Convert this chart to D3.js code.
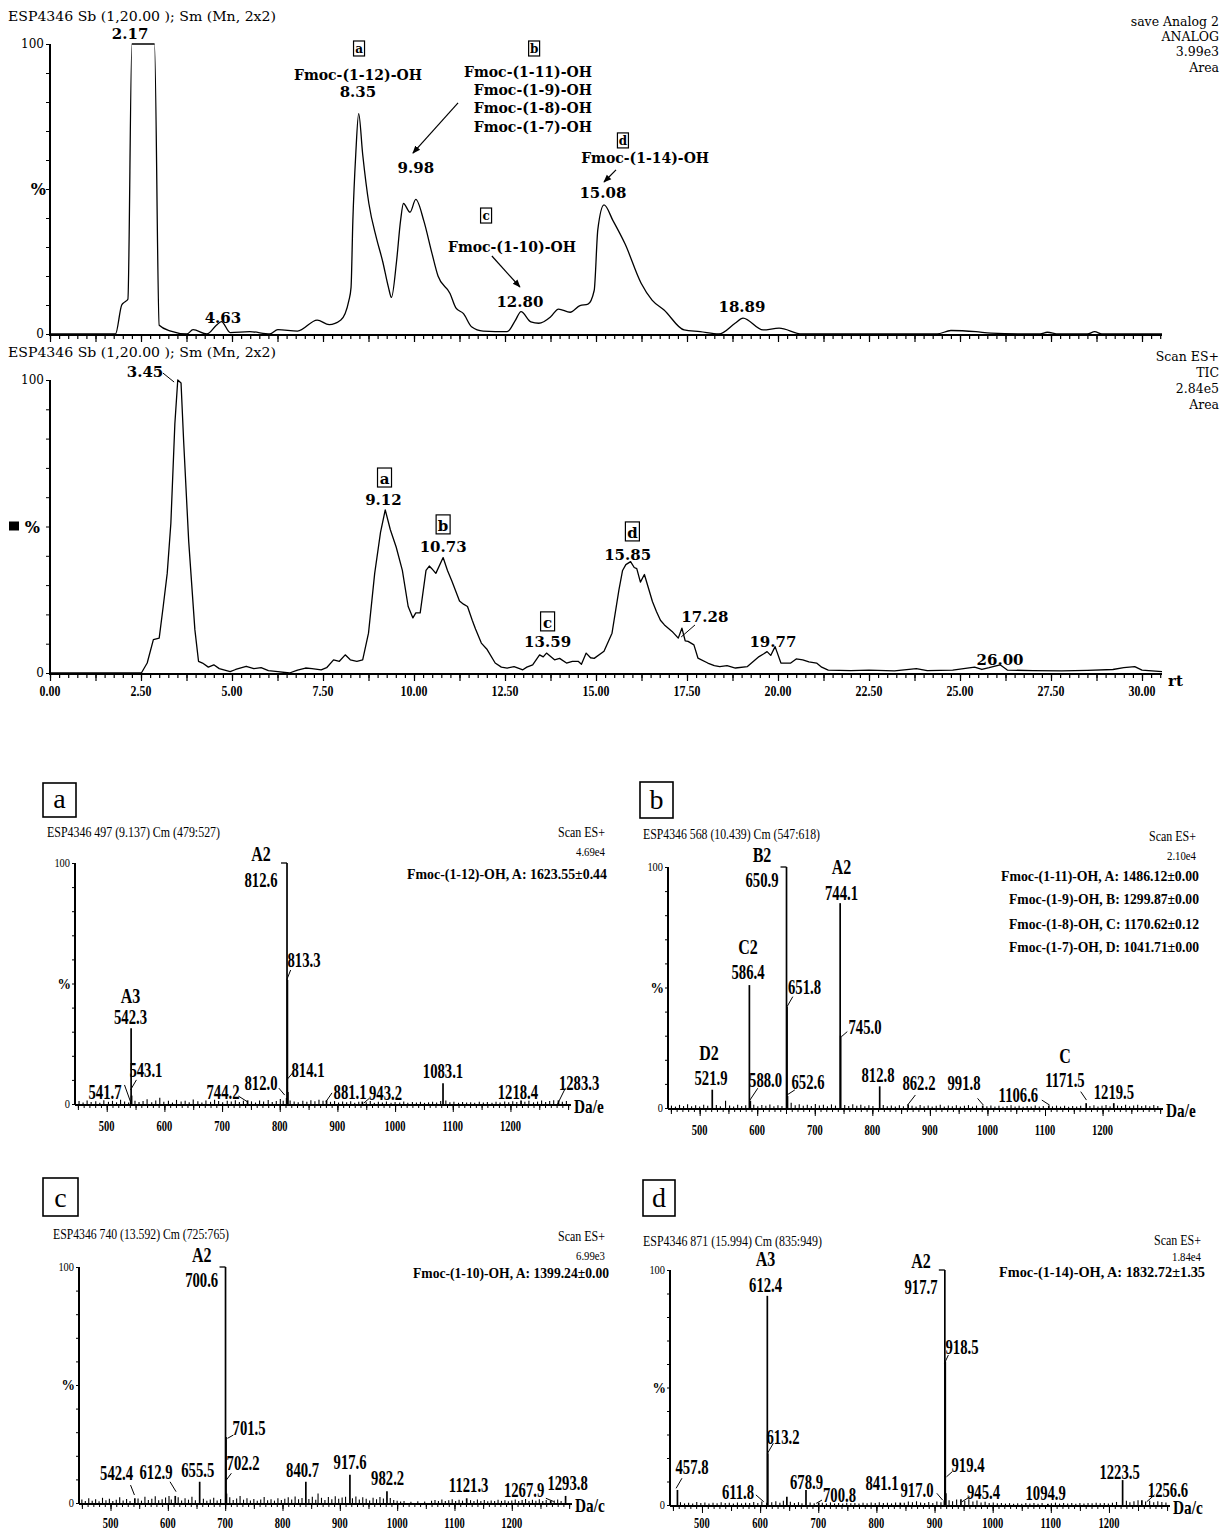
<!DOCTYPE html>
<html><head><meta charset="utf-8">
<script src="https://cdn.jsdelivr.net/npm/d3@7/dist/d3.min.js"></script>
<style>html,body{margin:0;padding:0;background:#fff}svg{display:block}</style>
</head><body>
<script>
// ================= DATA =================
// Chromatogram traces: [retention time (min), intensity %]
const uvTrace=[[0,0],[1.80,0],[1.97,10],[2.05,11],[2.14,12],[2.25,100],[2.87,100],[3.0,3],[3.32,1],[3.76,0],[3.93,1.5],[4.31,0],[4.57,3],[4.71,4.3],[4.95,0.5],[5.49,0.8],[6.04,0],[6.26,1.5],[6.80,1],[7.34,4.8],[7.67,3.2],[7.99,4.8],[8.21,11.5],[8.27,16],[8.32,39],[8.40,62],[8.48,76],[8.59,62],[8.76,45],[8.97,33],[9.14,25],[9.30,16],[9.38,12.6],[9.52,25],[9.63,39],[9.71,45],[9.89,42],[10.05,46.4],[10.27,39],[10.49,28],[10.66,20],[10.99,14],[11.15,9],[11.36,7],[11.58,2.5],[11.90,1],[12.56,0.8],[12.78,4.6],[12.94,7.7],[13.21,4.2],[13.43,3.7],[13.76,6],[13.97,8.6],[14.29,7.5],[14.56,9.8],[14.78,10.3],[14.95,15],[15.05,36],[15.22,44.5],[15.47,39],[15.80,31],[16.24,17.5],[16.54,11.7],[16.87,8.3],[17.42,1.4],[17.86,0.8],[18.38,0],[18.82,3.7],[19.04,5.5],[19.59,1.4],[20.03,2],[20.66,0],[24.37,0],[24.75,1.2],[25.44,0.8],[25.85,0.3],[27.2,0],[27.4,0.6],[27.7,0],[28.5,0],[28.7,0.8],[28.9,0],[30.55,0]];
const ticTrace=[[0,0],[2.51,0],[2.67,3.4],[2.84,11.4],[3.0,11.9],[3.11,22.7],[3.22,34],[3.32,51],[3.43,85],[3.51,100],[3.6,99],[3.67,79.5],[3.81,45],[3.98,14.8],[4.08,4],[4.19,3.4],[4.35,2],[4.5,2.8],[4.65,1.5],[4.8,1],[4.95,0.5],[5.1,1.2],[5.39,2.3],[5.6,1.5],[5.8,1.8],[6.0,0.8],[6.26,0.5],[6.58,0],[6.8,1],[7.02,1.7],[7.2,1.5],[7.45,1.1],[7.6,1.8],[7.79,4.5],[7.95,4],[8.11,6.2],[8.25,4.5],[8.43,4],[8.59,4.5],[8.75,13.6],[8.92,34],[9.08,48],[9.21,55.7],[9.35,48.9],[9.51,43],[9.68,35],[9.84,22.7],[9.97,18.8],[10.05,20.5],[10.17,20.5],[10.33,35],[10.42,36.5],[10.49,35.6],[10.6,34],[10.8,39.4],[10.92,35],[11.04,31.4],[11.25,24.6],[11.36,23.5],[11.47,22.7],[11.6,18],[11.69,15],[11.85,10.2],[12.01,8],[12.23,3.4],[12.4,2],[12.56,1.7],[12.75,2.2],[12.99,1.1],[13.1,2],[13.26,2.8],[13.45,6.2],[13.55,5.5],[13.64,6.8],[13.86,4.5],[14.0,5],[14.19,3.4],[14.35,4],[14.51,4],[14.6,3],[14.73,6.8],[14.85,5.2],[14.95,5],[15.22,7.4],[15.44,13.6],[15.63,28.4],[15.73,35],[15.82,37],[15.95,38],[16.05,36],[16.12,35.6],[16.22,31],[16.33,33.6],[16.44,29],[16.55,24.4],[16.66,21],[16.77,18],[16.88,16.4],[17.09,14.2],[17.26,11.9],[17.36,15.3],[17.45,11],[17.53,10.8],[17.69,9.6],[17.8,5.1],[18.07,3.4],[18.25,2.5],[18.4,2.2],[18.6,2.5],[18.83,1.7],[19.16,2.2],[19.48,5.6],[19.6,6.5],[19.7,7.3],[19.8,6],[19.92,9],[20.08,3.4],[20.35,3.4],[20.5,4.8],[20.68,4.5],[20.85,3.8],[21.06,3.4],[21.2,2],[21.38,1],[22.0,0.8],[22.5,1],[23.2,0.7],[23.8,1.5],[24.1,0.8],[24.8,1],[25.4,2],[25.6,1.2],[25.8,1.8],[26.1,2.8],[26.3,1],[27.0,0.8],[27.8,0.7],[28.5,0.9],[29.2,1.2],[29.5,1.8],[29.8,2.2],[30.0,1],[30.55,0.5]];
const rtTickLabels=[0,2.5,5,7.5,10,12.5,15,17.5,20,22.5,25,27.5,30];

// Chromatogram annotations: [text, rt, %]
const uvPeakLabels=[["2.17",2.2,101.7],["4.63",4.75,3.8],["8.35",8.46,81.7],["9.98",10.05,55.5],["12.80",12.91,9.3],["15.08",15.19,46.9],["18.89",19.01,7.6]];
const uvCompoundLabels=[["Fmoc-(1-12)-OH",8.46,87.6,"middle"],["Fmoc-(1-11)-OH",14.89,88.6,"end"],["Fmoc-(1-9)-OH",14.89,82.4,"end"],["Fmoc-(1-8)-OH",14.89,76.2,"end"],["Fmoc-(1-7)-OH",14.89,69.7,"end"],["Fmoc-(1-10)-OH",12.69,28.3,"middle"],["Fmoc-(1-14)-OH",16.35,59,"middle"]];
const uvBoxes=[["a",8.49,96.9],["b",13.3,96.9],["c",11.98,39.3],["d",15.74,65.2]];
const uvArrows=[[11.21,79.7,9.97,62.4],[12.14,26.9,12.91,16.2],[15.55,56.6,15.22,52.4]];
const ticPeakLabels=[["3.45",2.61,101],["9.12",9.16,57.3],["10.73",10.8,41.3],["13.59",13.67,8.9],["15.85",15.87,38.6],["17.28",17.99,17.4],["19.77",19.86,8.9],["26.00",26.1,2.7]];
const ticBoxes=[["a",9.19,64.5],["b",10.8,48.5],["c",13.67,15.4],["d",16.0,46.1]];
const ticLeaders=[[3.1,102.4,3.41,99.3],[17.72,16.4,17.34,12.3]];
const uvHeader="ESP4346 Sb (1,20.00 ); Sm (Mn, 2x2)";
const uvRightHeader=["save Analog 2","ANALOG","3.99e3","Area"];
const ticHeader="ESP4346 Sb (1,20.00 ); Sm (Mn, 2x2)";
const ticRightHeader=["Scan ES+","TIC","2.84e5","Area"];

// Mass spectra: [m/z, %]
const mzTickLabels=[500,600,700,800,900,1000,1100,1200];
const peaksA=[[812.6,100],[813.3,51.5],[542.3,31.4],[1083.1,8.6],[814.1,5],[543.1,3.5],[541.7,1.5],[812.0,2.5],[744.2,1.5],[881.1,1.5],[943.2,1],[1218.4,1.5],[1283.3,1.5]];
const noiseA=[[452,1.2],[459,0.6],[466,1.5],[473,0.8],[481,1.1],[488,0.5],[495,1.6],[503,0.9],[510,1.3],[517,0.7],[524,1.8],[531,1],[538,0.6],[549,1.4],[556,0.8],[563,1.2],[570,2],[578,0.7],[585,1.5],[592,2.6],[599,0.9],[607,1.3],[614,0.6],[621,1.7],[629,1],[636,1.4],[643,0.7],[650,1.9],[658,1.1],[665,0.6],[672,1.5],[680,0.9],[687,1.8],[694,1.2],[701,0.7],[709,1.4],[716,1],[723,1.6],[730,0.8],[737,1.3],[751,1.1],[758,0.6],[765,1.5],[772,1],[780,1.7],[787,0.8],[794,1.2],[801,2.1],[806,1.4],[818,1.5],[825,1],[832,0.7],[840,1.3],[847,0.9],[854,1.6],[861,1.1],[868,1.8],[875,1.3],[888,0.9],[895,1.2],[902,0.6],[909,1],[916,0.7],[923,1.1],[930,0.5],[937,0.9],[950,0.7],[957,1.2],[964,0.5],[971,0.9],[978,0.6],[985,1],[993,0.5],[1000,0.8],[1008,0.6],[1015,1],[1022,0.5],[1030,0.8],[1037,0.6],[1044,0.9],[1051,0.5],[1058,0.7],[1065,0.9],[1072,0.6],[1079,1.2],[1088,1.5],[1095,0.7],[1102,0.9],[1110,0.5],[1117,0.8],[1124,0.6],[1131,0.7],[1138,0.5],[1146,0.9],[1153,0.6],[1160,0.8],[1168,0.5],[1175,0.9],[1182,0.6],[1190,1],[1197,0.7],[1204,1.1],[1211,0.8],[1225,0.9],[1232,1.3],[1240,0.7],[1247,1],[1254,1.5],[1261,0.8],[1268,1.2],[1275,1.6],[1290,0.9],[1297,1.2]];
const labelsA=[["A2",767.5,100.8,1],["812.6",767.5,90,0],["813.3",842,56.8,0],["A3",541.2,42,1],["542.3",541.2,33.2,0],["543.1",568,11.2,0],["541.7",497,2.1,0],["744.2",701.6,2.1,0],["812.0",767.5,5.8,0],["814.1",849,11.2,0],["881.1",922,2.1,0],["943.2",983.4,1.7,0],["1083.1",1083.1,10.8,0],["1218.4",1213,2.1,0],["1283.3",1319,5.8,0]];
const leadersA=[[818.9,55.6,812.1,51.5],[551.5,10,541.2,5.8],[530.8,7.9,541.2,1],[728.3,3.3,743.4,1],[798.4,6.6,808.6,3.7],[822.3,12.9,812.1,10],[890.6,4.6,880.2,1],[956,2.5,945.8,0.4],[1295.3,6.6,1281.7,0]];
const idsA=["Fmoc-(1-12)-OH, A: 1623.55±0.44"];

const peaksB=[[650.9,100],[744.1,85],[586.4,51],[651.8,42],[745.0,30],[812.8,9],[521.9,7.6],[588.0,3],[652.6,5],[862.2,1.5],[991.8,1],[1106.6,1],[1171.5,2],[1219.5,2]];
const noiseB=[[451,1],[458,0.6],[465,1.3],[472,0.8],[479,1.6],[486,0.7],[493,1.1],[500,0.6],[507,1.4],[514,0.9],[529,1.2],[536,0.7],[545,3],[552,1],[559,0.6],[566,1.3],[573,0.8],[580,1.1],[594,1.4],[601,0.7],[608,1.2],[615,0.9],[622,1.5],[629,0.7],[636,1.1],[643,0.8],[659,2.2],[666,1.1],[673,1.6],[680,0.9],[687,1.4],[694,0.8],[701,1.7],[708,1],[715,1.3],[722,0.7],[729,1.5],[736,1],[752,1.2],[759,0.8],[766,1.6],[773,0.9],[780,1.3],[787,0.7],[794,1.1],[801,0.8],[819,1.2],[826,0.7],[833,1],[840,0.6],[847,1.1],[854,0.7],[869,0.9],[876,0.6],[883,1.2],[890,0.7],[897,1],[904,0.6],[911,0.9],[918,1.3],[925,0.6],[932,1],[939,0.7],[946,1.1],[953,0.6],[960,0.9],[967,1.2],[974,0.6],[981,1],[999,0.7],[1006,1],[1013,0.6],[1020,0.9],[1027,0.5],[1034,0.8],[1041,1.1],[1048,0.6],[1055,0.9],[1062,0.5],[1069,0.8],[1076,0.6],[1083,1],[1090,0.6],[1097,0.8],[1113,0.7],[1120,1],[1127,0.6],[1134,0.9],[1141,0.5],[1148,0.8],[1155,0.6],[1162,0.9],[1178,0.8],[1185,1.1],[1192,0.6],[1199,0.9],[1206,1.2],[1213,0.7],[1226,1],[1233,0.8],[1240,1.3],[1247,0.7],[1254,1],[1261,1.4],[1268,0.8],[1275,1.1],[1282,0.7],[1289,1.2],[1296,0.8]];
const labelsB=[["B2",608.3,102,1],["650.9",608.3,91.7,0],["A2",746.4,97,1],["744.1",746.4,86.3,0],["C2",584,64,1],["586.4",584,53.5,0],["651.8",682.1,47.3,0],["745.0",787.2,30.7,0],["D2",516.2,19.8,1],["521.9",519.7,9.5,0],["588.0",614.5,8.7,0],["652.6",688.2,7.9,0],["812.8",809.8,10.8,0],["862.2",881,7.5,0],["991.8",959.2,7.5,0],["1106.6",1053.8,2.5,0],["C",1134.6,18.8,1],["1171.5",1134.6,8.7,0],["1219.5",1219.7,3.7,0]];
const leadersB=[[661.8,46.2,651.7,42],[756.5,31.7,746.4,29.6],[601,8.2,587.4,3.3],[665.3,7.5,651.7,5.4],[874.8,5.4,861.2,1.2],[982.8,4,992.9,1.2],[1094.4,3.3,1108,1.2],[1162,6.8,1172,3.3]];
const idsB=["Fmoc-(1-11)-OH, A: 1486.12±0.00","Fmoc-(1-9)-OH, B: 1299.87±0.00","Fmoc-(1-8)-OH, C: 1170.62±0.12","Fmoc-(1-7)-OH, D: 1041.71±0.00"];

const peaksC=[[700.6,100],[701.5,28],[917.6,12],[840.7,9],[655.5,9],[702.2,4],[982.2,5],[612.9,3],[542.4,2],[1121.3,2],[1267.9,1],[1293.8,3]];
const noiseC=[[450,1.5],[456,0.8],[462,2],[468,1],[474,1.6],[480,0.7],[486,2.2],[492,1.2],[498,1.8],[504,0.9],[510,1.4],[516,2.4],[522,1.1],[528,1.7],[534,0.8],[548,1.9],[554,1],[560,2.6],[566,1.3],[572,1.8],[578,2.9],[584,1.2],[590,1.6],[596,2.3],[602,3],[606,1.5],[618,2.4],[624,1.1],[630,2],[636,1.4],[642,2.6],[648,1.2],[662,1.8],[668,1],[674,1.5],[680,2.2],[686,1.1],[692,1.7],[708,2.4],[714,1.3],[720,1.9],[726,3],[732,1.4],[738,2],[744,1.1],[750,1.7],[756,1],[762,1.5],[768,2.5],[774,1.2],[780,1.6],[786,1],[792,2],[798,1.3],[804,1.8],[810,2.4],[816,1.5],[822,2.8],[828,1.6],[834,2.1],[846,1.7],[852,2.6],[858,1.4],[862,4],[868,2.2],[874,1.3],[880,2.5],[886,1.6],[892,2.9],[898,1.8],[904,2.3],[910,2.7],[922,2],[928,2.8],[934,1.5],[940,2.4],[946,1.8],[952,1.1],[958,2.2],[964,1.6],[970,2.5],[976,1.9],[988,2.1],[994,1.3],[1000,1],[1006,0.6],[1012,0.8],[1024,0.5],[1036,0.7],[1048,0.6],[1060,1],[1066,1.3],[1072,0.9],[1078,1.5],[1084,0.8],[1090,1.2],[1096,1.6],[1102,0.9],[1108,1.4],[1114,1],[1128,1.2],[1134,0.8],[1140,1.5],[1146,0.9],[1152,1.3],[1158,0.7],[1164,1.1],[1170,0.8],[1176,1.4],[1182,0.9],[1188,1.2],[1194,0.7],[1200,1.1],[1206,1.5],[1212,0.8],[1218,1.3],[1224,1.7],[1230,0.9],[1236,1.4],[1242,1],[1248,1.6],[1254,0.9],[1260,1.3],[1274,1.1],[1280,1.5],[1286,0.9]];
const labelsC=[["A2",659,102.3,1],["700.6",659,91.5,0],["701.5",741.7,28.8,0],["542.4",510.6,9.7,0],["612.9",579.4,10.2,0],["655.5",652.1,11,0],["702.2",731.2,14,0],["840.7",835,11,0],["917.6",917.9,14.4,0],["982.2",983.4,7.6,0],["1121.3",1124.7,4.7,0],["1267.9",1221.5,2.5,0],["1293.8",1297.3,5.5,0]];
const leadersC=[[714.3,28.8,704,27.4],[534.9,7.6,541.7,3.4],[603.8,9,614.3,4.8],[710.8,12.6,701.9,9.7],[1259.4,2,1273.2,0.6]];
const idsC=["Fmoc-(1-10)-OH, A: 1399.24±0.00"];

const peaksD=[[917.7,100],[612.4,89],[918.5,61],[613.2,22],[1223.5,10.6],[678.9,6.4],[457.8,6.4],[919.4,5],[945.4,2.5],[611.8,1],[700.8,1],[841.1,1],[917.0,2],[1094.9,0.5],[1256.6,2],[646,3.5]];
const noiseD=[[463,1.2],[470,0.7],[477,1],[484,0.6],[491,1.3],[498,0.8],[505,1.1],[512,0.6],[519,1],[526,0.7],[533,1.2],[540,0.8],[547,1],[554,0.6],[561,1.1],[568,0.7],[575,1],[582,0.8],[589,1.3],[596,0.9],[603,1.5],[620,1.2],[627,1.6],[634,1],[640,1.8],[652,1.4],[659,0.9],[666,1.2],[672,0.7],[686,1.1],[693,0.7],[707,1],[714,0.6],[721,1.1],[728,0.7],[735,0.9],[742,0.6],[749,1],[756,0.7],[763,0.9],[770,0.6],[777,1],[784,0.7],[791,1.1],[798,0.8],[805,1.2],[812,0.8],[819,1],[826,0.7],[833,1.1],[848,1],[855,1.5],[862,1.2],[869,1.6],[876,1.1],[883,0.9],[890,1.3],[897,0.8],[904,1.5],[911,1.2],[925,2],[931,1.6],[938,2.3],[952,1.8],[959,2.4],[966,1.5],[973,1.9],[980,1.1],[987,1.4],[994,0.9],[1001,1.1],[1008,0.7],[1015,0.9],[1022,0.6],[1029,0.8],[1036,0.5],[1043,0.7],[1050,0.5],[1057,0.8],[1064,0.6],[1071,0.9],[1078,0.5],[1085,0.8],[1101,0.7],[1108,1],[1115,0.6],[1122,0.9],[1129,0.6],[1136,0.8],[1143,0.5],[1150,0.8],[1157,0.6],[1164,0.9],[1171,0.7],[1178,1],[1185,0.7],[1192,0.9],[1199,0.6],[1206,1],[1213,1.3],[1230,1.8],[1236,1.2],[1243,1.6],[1250,2],[1263,1.5],[1270,1.8],[1277,1.2],[1284,1.6],[1291,1.3],[1298,1.1]];
const labelsD=[["A3",609.4,101.5,1],["612.4",609.4,90.6,0],["A2",876.7,100.8,1],["917.7",876.7,89.8,0],["918.5",947.2,64.3,0],["613.2",639.4,26,0],["457.8",482.8,13.2,0],["611.8",562,2.6,0],["678.9",679.8,6.8,0],["700.8",736.5,1.3,0],["841.1",809.6,6.4,0],["917.0",869.8,3.4,0],["919.4",957.6,14,0],["945.4",984.2,2.6,0],["1094.9",1091.2,2.1,0],["1223.5",1218.3,11,0],["1256.6",1301.6,3.4,0]];
const leadersD=[[622.8,26.3,612.7,22],[465.6,11.4,455.5,7.1],[592.7,4.3,606.2,1.4],[706.4,2.1,696.5,0.7],[903.9,5,913.9,2.1],[930.6,14.2,920.6,12],[960.7,3.5,947.2,1.4],[1278.5,4.3,1265,1.4],[923.8,63.8,917.1,60.3]];
const idsD=["Fmoc-(1-14)-OH, A: 1832.72±1.35"];

// ================= DRAWING =================
const serif="'DejaVu Serif', serif";
const times="'Liberation Serif','Times New Roman',serif";
const svg=d3.select("body").append("svg").attr("width",1220).attr("height",1530);
svg.append("rect").attr("width",1220).attr("height",1530).attr("fill","#fff");
const defs=svg.append("defs");
defs.append("marker").attr("id","ah").attr("viewBox","0 0 10 10").attr("refX",9).attr("refY",5)
  .attr("markerWidth",8).attr("markerHeight",8).attr("markerUnits","userSpaceOnUse").attr("orient","auto")
  .append("path").attr("d","M0,1 L10,5 L0,9 z").attr("fill","#000");

const pctTicks=d3.range(0,101,10);
const rtX=d3.scaleLinear().domain([0,30]).range([50,1142]);
const rtMinor=d3.range(0,123).map(i=>i*0.25);
const rtMajor=d3.range(0,25).map(i=>i*1.25);
const clean=a=>{a.select(".domain").remove();a.selectAll("text").remove();};

function chrom(cfg){
  const g=svg.append("g");
  const y=d3.scaleLinear().domain([0,100]).range([cfg.y0,cfg.y100]);
  g.append("text").attr("x",8).attr("y",cfg.headY).attr("font-family",serif).attr("font-size",13)
    .attr("textLength",268).attr("lengthAdjust","spacingAndGlyphs").text(cfg.head);
  cfg.right.forEach((t,i)=>g.append("text").attr("x",1219).attr("y",cfg.rightY[i]).attr("text-anchor","end")
    .attr("font-family",serif).attr("font-size",12.5).text(t));
  // y axis
  g.append("g").attr("transform","translate(50,0)")
    .call(d3.axisLeft(y).tickValues(pctTicks).tickSize(4)).call(clean);
  g.append("line").attr("x1",50).attr("x2",50).attr("y1",y(100)).attr("y2",y(0)+1).attr("stroke","#000").attr("stroke-width",2);
  g.append("text").attr("x",44).attr("y",y(100)+4).attr("text-anchor","end").attr("font-family",serif).attr("font-size",12).text("100");
  g.append("text").attr("x",44).attr("y",y(0)+4).attr("text-anchor","end").attr("font-family",serif).attr("font-size",12).text("0");
  g.append("text").attr("x",cfg.block?40:46).attr("y",y(50)+6).attr("text-anchor","end").attr("font-family",serif).attr("font-size",16).attr("font-weight","bold").text("%");
  if(cfg.block) g.append("rect").attr("x",9).attr("y",y(50)-5).attr("width",10).attr("height",9).attr("fill","#000");
  // x axis
  const xa=g.append("g").attr("transform",`translate(0,${y(0)+1})`);
  xa.append("g").call(d3.axisBottom(rtX).tickValues(rtMinor).tickSize(4)).call(clean);
  xa.append("g").call(d3.axisBottom(rtX).tickValues(rtMajor).tickSize(7)).call(clean);
  xa.selectAll("line").attr("stroke-width",1.2);
  g.append("line").attr("x1",49).attr("x2",1162).attr("y1",y(0)+1).attr("y2",y(0)+1).attr("stroke","#000").attr("stroke-width",2);
  if(cfg.labels){
    g.selectAll(".rtl").data(rtTickLabels).join("text")
      .attr("transform",d=>`translate(${rtX(d)},${y(0)+23}) scale(0.85,1)`)
      .attr("text-anchor","middle").attr("font-family",times).attr("font-size",14).attr("font-weight","bold")
      .text(d=>d3.format(".2f")(d));
    g.append("text").attr("x",1168).attr("y",y(0)+13).attr("font-family",serif).attr("font-size",15).attr("font-weight","bold").text("rt");
  }
  // trace
  g.append("path").datum(cfg.trace)
    .attr("d",d3.line().x(d=>rtX(d[0])).y(d=>y(d[1])).curve(cfg.curve))
    .attr("fill","none").attr("stroke","#000").attr("stroke-width",1.3).attr("stroke-linejoin","round");
  // peak labels
  g.selectAll(".pl").data(cfg.peakLabels).join("text")
    .attr("x",d=>rtX(d[1])).attr("y",d=>y(d[2])).attr("text-anchor","middle")
    .attr("font-family",serif).attr("font-size",15).attr("font-weight","bold").text(d=>d[0]);
  // boxed letters
  cfg.boxes.forEach(b=>{
    const cx=rtX(b[1]), by=y(b[2]);
    g.append("rect").attr("x",cx-cfg.boxW/2).attr("y",by-cfg.boxH+3).attr("width",cfg.boxW).attr("height",cfg.boxH)
      .attr("fill","none").attr("stroke","#000").attr("stroke-width",1.2);
    g.append("text").attr("x",cx).attr("y",by).attr("text-anchor","middle").attr("font-family",serif)
      .attr("font-size",cfg.boxFont).attr("font-weight","bold").text(b[0]);
  });
  (cfg.compounds||[]).forEach(c=>{
    g.append("text").attr("x",rtX(c[1])).attr("y",y(c[2])).attr("text-anchor",c[3]).attr("font-family",serif)
      .attr("font-size",14).attr("font-weight","bold").text(c[0]);
  });
  (cfg.arrows||[]).forEach(a=>{
    g.append("line").attr("x1",rtX(a[0])).attr("y1",y(a[1])).attr("x2",rtX(a[2])).attr("y2",y(a[3]))
      .attr("stroke","#000").attr("stroke-width",1.2).attr("marker-end","url(#ah)");
  });
  (cfg.leaders||[]).forEach(a=>{
    g.append("line").attr("x1",rtX(a[0])).attr("y1",y(a[1])).attr("x2",rtX(a[2])).attr("y2",y(a[3]))
      .attr("stroke","#000").attr("stroke-width",1);
  });
}

chrom({y0:334,y100:44,headY:21,head:uvHeader,right:uvRightHeader,rightY:[26,41,56,72],labels:false,
  trace:uvTrace,curve:d3.curveMonotoneX,peakLabels:uvPeakLabels,boxes:uvBoxes,boxW:11,boxH:15,boxFont:12,
  compounds:uvCompoundLabels,arrows:uvArrows});
chrom({y0:673,y100:380,headY:357,head:ticHeader,right:ticRightHeader,rightY:[361,377,393,409],labels:true,block:true,
  trace:ticTrace,curve:d3.curveLinear,peakLabels:ticPeakLabels,boxes:ticBoxes,boxW:14,boxH:19,boxFont:15,
  leaders:ticLeaders});

// ---- spectra ----
const mzDomain=[445,1305];
const mzMinor=d3.range(450,1301,10);
const mzMid=d3.range(450,1301,50);
function ctext(g,x,y,str,size,sx,anchor,weight){
  return g.append("text").attr("transform",`translate(${x},${y}) scale(${sx},1)`).attr("text-anchor",anchor||"middle")
    .attr("font-family",times).attr("font-size",size).attr("font-weight",weight||"normal").text(str);
}
function fitText(g,x,y,str,size,w,anchor,weight){
  const x0=anchor==="end"?x-w:x;
  return g.append("text").attr("x",x0).attr("y",y).attr("font-family",times).attr("font-size",size)
    .attr("font-weight",weight||"normal").attr("textLength",w).attr("lengthAdjust","spacingAndGlyphs").text(str);
}
function spectrum(p){
  const g=svg.append("g");
  const x=d3.scaleLinear().domain(mzDomain).range([p.x0,p.x1]);
  const y=d3.scaleLinear().domain([0,100]).range([p.y0,p.y100]);
  // panel letter
  g.append("rect").attr("x",p.box[0]).attr("y",p.box[1]).attr("width",p.box[2]).attr("height",p.box[3])
    .attr("fill","none").attr("stroke","#000").attr("stroke-width",1.6);
  g.append("text").attr("x",p.box[0]+p.box[2]/2).attr("y",p.box[1]+p.box[3]-9).attr("text-anchor","middle")
    .attr("font-family",times).attr("font-size",28).text(p.letter);
  // headers
  fitText(g,p.titleX,p.titleY,p.title,14,p.titleW,"start");
  fitText(g,p.right,p.scanY,"Scan ES+",14,47,"end");
  fitText(g,p.right,p.scaleY,p.scale,13,29,"end");
  p.ids.forEach((t,i)=>fitText(g,p.idRight,p.idY[i],t,15,p.idW[i],"end","bold"));
  // y axis
  g.append("g").attr("transform",`translate(${p.x0},0)`)
    .call(d3.axisLeft(y).tickValues(pctTicks).tickSize(3)).call(clean);
  g.append("line").attr("x1",p.x0).attr("x2",p.x0).attr("y1",y(100)).attr("y2",y(0)+1).attr("stroke","#000").attr("stroke-width",2);
  ctext(g,p.x0-5,y(100)+4,"100",13,0.8,"end");
  ctext(g,p.x0-5,y(0)+4,"0",13,0.8,"end");
  ctext(g,p.x0-4,y(50)+5,"%",15,0.9,"end","bold");
  // x axis
  const xa=g.append("g").attr("transform",`translate(0,${y(0)+1})`);
  xa.append("g").call(d3.axisBottom(x).tickValues(mzMinor).tickSize(3)).call(clean);
  xa.append("g").call(d3.axisBottom(x).tickValues(mzMid).tickSize(5)).call(clean);
  xa.append("g").call(d3.axisBottom(x).tickValues(mzTickLabels).tickSize(7)).call(clean);
  g.append("line").attr("x1",p.x0).attr("x2",p.x1).attr("y1",y(0)+1).attr("y2",y(0)+1).attr("stroke","#000").attr("stroke-width",2);
  mzTickLabels.forEach(v=>ctext(g,x(v),p.tickY,String(v),14,0.75,"middle","bold"));
  ctext(g,p.x1+3,y(0)+9,p.axisLabel,18,0.85,"start","bold");
  // bars
  g.selectAll(".nz").data(p.noise).join("line")
    .attr("x1",d=>x(d[0])).attr("x2",d=>x(d[0])).attr("y1",y(0)).attr("y2",d=>y(d[1]))
    .attr("stroke","#000").attr("stroke-width",1.1);
  g.selectAll(".pk").data(p.peaks).join("line")
    .attr("x1",d=>x(d[0])).attr("x2",d=>x(d[0])).attr("y1",y(0)).attr("y2",d=>y(d[1]))
    .attr("stroke","#000").attr("stroke-width",1.7);
  const base=p.peaks.find(d=>d[1]===100);
  g.append("line").attr("x1",x(base[0])-6).attr("x2",x(base[0])).attr("y1",y(100)).attr("y2",y(100)).attr("stroke","#000").attr("stroke-width",1.3);
  // labels
  p.labels.forEach(l=>ctext(g,x(l[1]),y(l[2]),l[0],l[3]?20:21,l[3]?0.8:0.7,"middle","bold"));
  p.leaders.forEach(a=>g.append("line").attr("x1",x(a[0])).attr("y1",y(a[1])).attr("x2",x(a[2])).attr("y2",y(a[3]))
    .attr("stroke","#000").attr("stroke-width",1));
}

spectrum({letter:"a",box:[43,783,33,34],x0:75,x1:571,y0:1104,y100:863,
  title:"ESP4346 497 (9.137) Cm (479:527)",titleX:47,titleY:837,titleW:173,
  right:605,scanY:837,scale:"4.69e4",scaleY:856,ids:idsA,idRight:607,idY:[879],idW:[200],
  tickY:1131,axisLabel:"Da/e",peaks:peaksA,noise:noiseA,labels:labelsA,leaders:leadersA});
spectrum({letter:"b",box:[640,782,33,36],x0:668,x1:1163,y0:1108,y100:867,
  title:"ESP4346 568 (10.439) Cm (547:618)",titleX:643,titleY:839,titleW:177,
  right:1196,scanY:841,scale:"2.10e4",scaleY:860,ids:idsB,idRight:1199,idY:[881,904,929,952],idW:[198,190,190,190],
  tickY:1135,axisLabel:"Da/e",peaks:peaksB,noise:noiseB,labels:labelsB,leaders:leadersB});
spectrum({letter:"c",box:[43,1178,35,38],x0:79,x1:572,y0:1503,y100:1267,
  title:"ESP4346 740 (13.592) Cm (725:765)",titleX:53,titleY:1239,titleW:176,
  right:605,scanY:1241,scale:"6.99e3",scaleY:1260,ids:idsC,idRight:609,idY:[1278],idW:[196],
  tickY:1528,axisLabel:"Da/c",peaks:peaksC,noise:noiseC,labels:labelsC,leaders:leadersC});
spectrum({letter:"d",box:[643,1180,32,36],x0:670,x1:1170,y0:1505,y100:1270,
  title:"ESP4346 871 (15.994) Cm (835:949)",titleX:643,titleY:1246,titleW:179,
  right:1201,scanY:1245,scale:"1.84e4",scaleY:1261,ids:idsD,idRight:1205,idY:[1277],idW:[206],
  tickY:1528,axisLabel:"Da/c",peaks:peaksD,noise:noiseD,labels:labelsD,leaders:leadersD});
</script>
</body></html>
